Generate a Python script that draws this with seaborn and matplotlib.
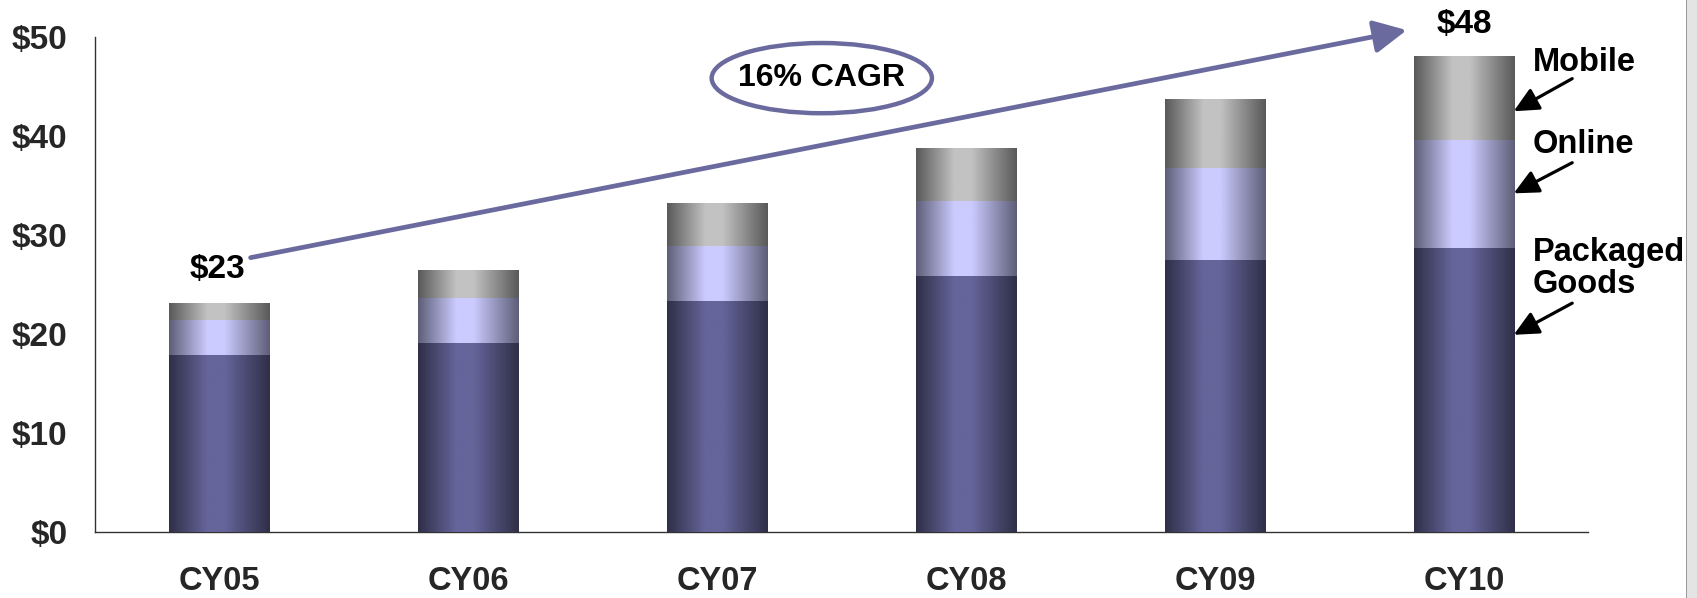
import numpy as np
import pandas as pd
import matplotlib
matplotlib.use("Agg")
import matplotlib.pyplot as plt
from matplotlib.colors import LinearSegmentedColormap
from matplotlib.patches import Ellipse, Rectangle
import seaborn as sns

# ---- data ($B) ----
years = ["CY05", "CY06", "CY07", "CY08", "CY09", "CY10"]
packaged = [17.9, 19.1, 23.3, 25.8, 27.5, 28.7]
online = [3.5, 4.5, 5.6, 7.6, 9.3, 10.9]
mobile = [1.7, 2.9, 4.3, 5.4, 6.9, 8.5]
yticks = [0, 10, 20, 30, 40, 50]
cagr_label = "16% CAGR"

INK = "#000000"
ARROW = "#6a6a9e"
# edge / centre colours of the horizontal "cylinder" shading
SHADES = {
    "Mobile": ("#595959", "#c2c2c2"),
    "Online": ("#5e5e78", "#cbcbff"),
    "Packaged\nGoods": ("#2f2f48", "#65659b"),
}


def shade_cmap(edge, mid):
    return LinearSegmentedColormap.from_list(
        "s", [(0, edge), (0.38, mid), (0.55, mid), (1, edge)])


def main():
    sns.set_style("white")
    plt.rcParams["font.family"] = ["Liberation Sans", "DejaVu Sans"]
    plt.rcParams["font.weight"] = "bold"

    df = pd.DataFrame({"year": years, "packaged": packaged,
                       "online": online, "mobile": mobile})
    df["mid"] = df["packaged"] + df["online"]
    df["total"] = df["mid"] + df["mobile"]

    fig = plt.figure(figsize=(16.97, 5.98), dpi=100)
    ax = fig.add_axes([0.056, 0.111, 0.880, 0.827])

    # stacked look: tallest first, then overlay the lower parts
    layers = [("total", "Mobile"), ("mid", "Online"), ("packaged", "Packaged\nGoods")]
    for z, (col, name) in enumerate(layers):
        sns.barplot(data=df, x="year", y=col, order=years, ax=ax, width=0.405,
                    color="white", linewidth=0, errorbar=None, zorder=2 + z)
    grad = np.linspace(0, 1, 256).reshape(1, -1)
    for z, ((col, name), cont) in enumerate(zip(layers, ax.containers)):
        cmap = shade_cmap(*SHADES[name])
        for p in cont.patches:
            x0, w, y0, h = p.get_x(), p.get_width(), p.get_y(), p.get_height()
            im = ax.imshow(grad, cmap=cmap, aspect="auto", interpolation="bilinear",
                           extent=(x0, x0 + w, y0, y0 + h), zorder=2 + z)
            im.set_clip_path(p)

    ax.set_xlim(-0.5, 5.5)
    ax.set_ylim(0, 50)
    ax.set_yticks(yticks)
    ax.set_yticklabels([f"${v}" for v in yticks])
    ax.set_xlabel(""); ax.set_ylabel("")
    ax.tick_params(axis="y", length=0, pad=20, labelsize=24)
    ax.tick_params(axis="x", length=0, pad=25, labelsize=23.5)
    for s in ["top", "right"]:
        ax.spines[s].set_visible(False)
    for s in ["left", "bottom"]:
        ax.spines[s].set_color("#333333")
        ax.spines[s].set_linewidth(1.0)

    # totals and CAGR arrow
    first, last = df["total"].iloc[0], df["total"].iloc[-1]
    ax.text(-0.01, 26.5, f"${first:.0f}", ha="center", va="center", fontsize=24,
            fontweight="bold", color=INK, clip_on=False)
    ax.text(5, 51.3, f"${last:.0f}", ha="center", va="center", fontsize=24,
            fontweight="bold", color=INK, clip_on=False)
    ax.annotate("", xy=(4.77, 50.7), xytext=(0.125, 27.7),
                arrowprops=dict(arrowstyle="-|>,head_length=1.0,head_width=0.5",
                                color=ARROW, lw=3.4, mutation_scale=20,
                                shrinkA=0, shrinkB=0),
                annotation_clip=False)
    ax.add_patch(Ellipse((2.42, 45.85), 0.885, 7.1, fill=False, ec=ARROW,
                         lw=3.2, zorder=6, clip_on=False))
    ax.text(2.42, 45.85, cagr_label, ha="center", va="center", fontsize=23,
            fontweight="bold", color=INK)

    # segment call-outs
    callouts = [("Mobile", 47.4, (5.20, 42.5), (5.435, 45.8)),
                ("Online", 39.1, (5.20, 34.2), (5.435, 37.3)),
                ("Packaged\nGoods", 26.6, (5.20, 19.9), (5.435, 23.1))]
    for label, ty, tip, tail in callouts:
        ax.text(5.275, ty, label, ha="left", va="center", fontsize=23.5,
                fontweight="bold", color=INK, linespacing=1.05, clip_on=False)
        ax.annotate("", xy=tip, xytext=tail,
                    arrowprops=dict(arrowstyle="-|>,head_length=0.75,head_width=0.36",
                                    color=INK, lw=2.3, mutation_scale=20,
                                    shrinkA=0, shrinkB=0),
                    annotation_clip=False)

    # slide edge at far right
    fig.patches.append(Rectangle((0.9935, 0), 0.0065, 1, transform=fig.transFigure,
                                 facecolor="#e4e4e4", edgecolor="none"))
    fig.patches.append(Rectangle((0.9935, 0), 0.0008, 1, transform=fig.transFigure,
                                 facecolor="#9a9a9a", edgecolor="none"))

    fig.savefig("out.png", dpi=100)
    plt.close(fig)


if __name__ == "__main__":
    main()
